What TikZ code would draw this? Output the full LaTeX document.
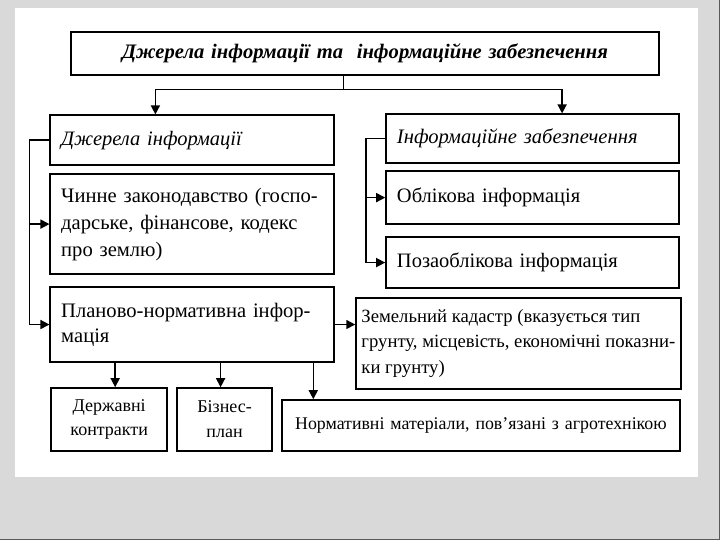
\documentclass[tikz,border=0pt]{standalone}
\usepackage{fontspec}
\setmainfont{Liberation Serif}
\usetikzlibrary{arrows.meta}
\definecolor{pagegray}{gray}{0.85}
\tikzset{
  box/.style={draw, line width=1.5pt, inner xsep=11pt, inner ysep=0pt,
    anchor=north west, align=left},
  arr/.style={line width=1.5pt, -{Triangle[length=9pt,width=9pt]}},
  link/.style={line width=1.5pt},
}
\newcommand{\fs}[2]{\fontsize{#1}{#2}\selectfont}

\begin{document}
\begin{tikzpicture}[x=1pt, y=-1pt]
    % page: grey frame with white sheet
    \fill[pagegray] (0,0) rectangle (720,540);
    \fill[white] (15,8) rectangle (698,477);
    \draw[gray!70!black, line width=1pt] (0,539.5) -- (719.5,539.5) -- (719.5,0);
    \useasboundingbox (0,0) rectangle (720,540);
    % heading
    \node[box, align=center, text width=566pt, minimum height=43pt,
          font=\fs{20.6}{25}\bfseries\itshape] (title) at (70,31)
        {Джерела інформації та\ \ інформаційне забезпечення};
    % left column
    \node[box, text width=262pt, minimum height=50pt, font=\fs{20.5}{25}\itshape] (src) at (49,114)
        {Джерела інформації};
    \node[box, text width=262pt, minimum height=100pt, font=\fs{20.6}{27}] (law) at (49,173)
        {Чинне законодавство (госпо-\\дарське, фінансове, кодекс\\про землю)};
    \node[box, text width=262pt, minimum height=75pt, font=\fs{20.6}{25}] (plan) at (49,286)
        {Планово-нормативна інфор-\\мація};
    % right column
    \node[box, text width=271pt, minimum height=49pt, font=\fs{20.6}{25}\itshape] (info) at (385,113)
        {Інформаційне забезпечення};
    \node[box, text width=271pt, minimum height=53pt, font=\fs{20.5}{25}] (acc) at (385,170)
        {Облікова інформація};
    \node[box, text width=271pt, minimum height=51pt, font=\fs{20.5}{25}] (offline) at (385,236)
        {Позаоблікова інформація};
    \node[box, inner xsep=4pt, minimum width=325pt, minimum height=91pt, font=\fs{18.7}{25.5}] (cad) at (355,297)
        {Земельний кадастр (вказується тип\\грунту, місцевість, економічні показни-\\ки грунту)};
    % bottom row
    \node[box, align=center, inner xsep=4pt, text width=108pt, minimum height=63pt, font=\fs{18}{25}] (gos) at (50,387)
        {Державні\\контракти};
    \node[box, align=center, inner xsep=4pt, text width=87pt, minimum height=63pt, font=\fs{18}{25}] (biz) at (176,387)
        {Бізнес-\\план};
    \node[box, align=center, inner xsep=4pt, text width=390pt, minimum height=51pt, font=\fs{17.85}{25}] (norm) at (281,399)
        {Нормативні матеріали, пов'язані з агротехнікою};

    % connectors
    \coordinate (tj) at (343,89);
    \coordinate (lb) at (29,0);
    \coordinate (rb) at (366,0);
    \coordinate (n1) at ([xshift=32pt]norm.north west);
    \draw[link] (title.south -| tj) -- (tj);
    \draw[arr] (tj) -| ([xshift=106pt]src.north west);
    \draw[arr] (tj) -| ([xshift=177pt]info.north west);
    \draw[link] (src.west) -- (src.west -| lb) -- (lb |- plan.west);
    \draw[arr] (lb |- law.west) -- (law.west);
    \draw[arr] (lb |- plan.west) -- (plan.west);
    \draw[link] (info.west) -- (info.west -| rb) -- (rb |- offline.west);
    \draw[arr] (rb |- acc.west) -- (acc.west);
    \draw[arr] (rb |- offline.west) -- (offline.west);
    \draw[arr] (plan.east) -- (plan.east -| cad.west);
    \draw[arr] ([xshift=6pt]gos.north |- plan.south) -- ([xshift=6pt]gos.north);
    \draw[arr] ([xshift=-4pt]biz.north |- plan.south) -- ([xshift=-4pt]biz.north);
    \draw[arr] (n1 |- plan.south) -- (n1);
\end{tikzpicture}
\end{document}
